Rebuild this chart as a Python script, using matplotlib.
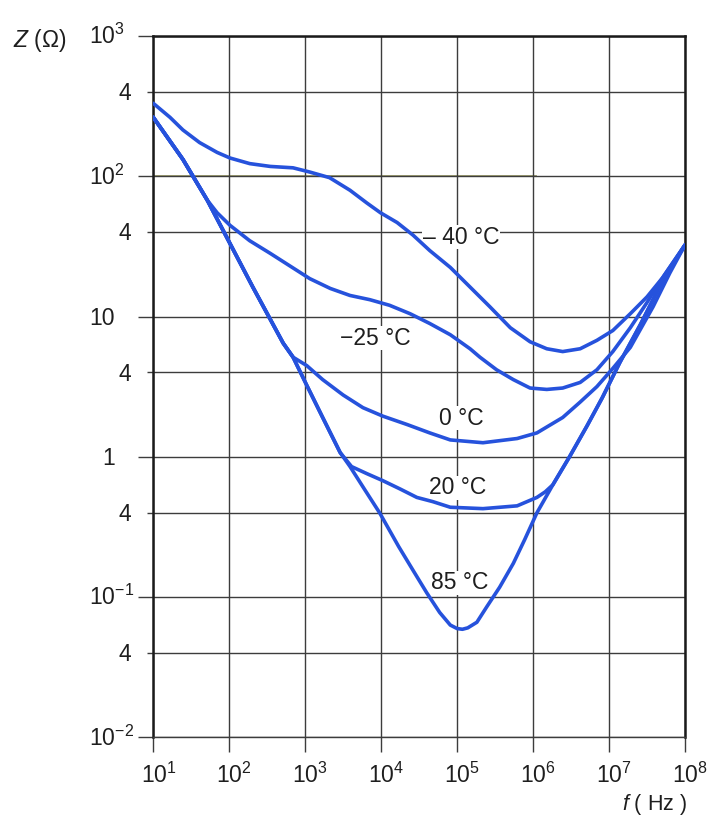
import numpy as np
import matplotlib
matplotlib.use('Agg')
import matplotlib.pyplot as plt
from matplotlib.ticker import NullLocator

plt.rcParams['font.family'] = ['Liberation Sans', 'DejaVu Sans']
plt.rcParams['mathtext.fontset'] = 'custom'
plt.rcParams['mathtext.rm'] = 'Liberation Sans'
plt.rcParams['mathtext.it'] = 'Liberation Sans:italic'
plt.rcParams['mathtext.bf'] = 'Liberation Sans:bold'

# ---------------- data (as decade exponents) ----------------
# -40 °C
logf_m40 = [1.00, 1.22, 1.39, 1.61, 1.84, 2.01, 2.27, 2.54, 2.84, 3.06, 3.32, 3.59,
            3.81, 3.99, 4.21, 4.42, 4.64, 4.91, 5.17, 5.43, 5.70, 5.96, 6.18,
            6.39, 6.62, 6.84, 7.05, 7.28, 7.50, 7.71, 8.00]
logz_m40 = [2.52, 2.42, 2.33, 2.24, 2.17, 2.13, 2.09, 2.07, 2.06, 2.03, 1.99, 1.90,
            1.81, 1.74, 1.67, 1.58, 1.47, 1.35, 1.21, 1.07, 0.92, 0.82, 0.77,
            0.75, 0.77, 0.83, 0.90, 1.02, 1.14, 1.28, 1.51]
# -25 °C
logf_m25 = [1.00, 1.39, 1.71, 1.84, 2.01, 2.27, 2.54, 2.80, 3.06, 3.33, 3.59, 3.85,
            4.11, 4.38, 4.64, 4.91, 5.17, 5.30, 5.52, 5.74, 5.96, 6.18, 6.39, 6.62,
            6.84, 7.05, 7.28, 7.50, 7.71, 8.00]
logz_m25 = [2.42, 2.12, 1.83, 1.74, 1.65, 1.54, 1.45, 1.36, 1.27, 1.20, 1.15, 1.12,
            1.08, 1.02, 0.95, 0.87, 0.77, 0.71, 0.62, 0.55, 0.49, 0.48, 0.49, 0.53,
            0.62, 0.75, 0.92, 1.10, 1.28, 1.51]
# 0 °C
logf_0 = [1.00, 1.39, 1.71, 2.01, 2.31, 2.54, 2.71, 2.84, 3.02, 3.23, 3.50, 3.76,
          4.02, 4.34, 4.64, 4.91, 5.34, 5.79, 6.05, 6.39, 6.62, 6.84, 7.05, 7.28,
          7.58, 7.80, 8.00]
logz_0 = [2.42, 2.12, 1.83, 1.52, 1.21, 0.98, 0.81, 0.71, 0.65, 0.55, 0.44, 0.35,
          0.29, 0.23, 0.17, 0.12, 0.10, 0.13, 0.17, 0.28, 0.39, 0.50, 0.63, 0.78,
          1.07, 1.31, 1.51]
# 20 °C
logf_20 = [1.00, 1.39, 1.71, 2.01, 2.31, 2.54, 2.71, 2.84, 3.02, 3.23, 3.46, 3.61,
           3.81, 4.02, 4.25, 4.47, 4.68, 4.91, 5.34, 5.79, 6.05, 6.16, 6.26,
           6.48, 6.71, 6.91, 7.14, 7.41, 7.71, 8.00]
logz_20 = [2.42, 2.12, 1.83, 1.52, 1.21, 0.98, 0.81, 0.71, 0.51, 0.28, 0.03, -0.07,
           -0.12, -0.17, -0.23, -0.29, -0.32, -0.36, -0.37, -0.35, -0.29, -0.25, -0.20,
           0.00, 0.22, 0.42, 0.67, 0.94, 1.26, 1.51]
# 85 °C
logf_85 = [1.00, 1.39, 1.71, 2.01, 2.31, 2.54, 2.71, 2.84, 3.02, 3.23, 3.46, 3.59,
           3.79, 3.98, 4.23, 4.42, 4.60, 4.77, 4.91, 5.00, 5.07, 5.14, 5.26, 5.39,
           5.56, 5.74, 5.89, 6.05, 6.26, 6.48, 6.71, 6.91, 7.14, 7.41, 7.71, 8.00]
logz_85 = [2.42, 2.12, 1.83, 1.52, 1.21, 0.98, 0.81, 0.71, 0.51, 0.28, 0.03, -0.07,
           -0.24, -0.40, -0.64, -0.81, -0.97, -1.11, -1.20, -1.225, -1.23, -1.22, -1.18, -1.07,
           -0.93, -0.76, -0.59, -0.40, -0.20, 0.00, 0.22, 0.42, 0.67, 0.94, 1.26, 1.51]

curve_labels = ['– 40 °C', '−25 °C', '0 °C', '20 °C', '85 °C']
label_pos_f = [1.12e5, 8.5e3, 1.15e5, 1.02e5, 1.07e5]
label_pos_z = [36.8, 7.0, 1.88, 0.60, 0.126]

x_decades = [1e1, 1e2, 1e3, 1e4, 1e5, 1e6, 1e7, 1e8]
x_ticklabels = [r'$10^{1}$', r'$10^{2}$', r'$10^{3}$', r'$10^{4}$',
                r'$10^{5}$', r'$10^{6}$', r'$10^{7}$', r'$10^{8}$']
y_decades = [1e3, 1e2, 1e1, 1e0, 1e-1, 1e-2]
y_ticklabels = [r'$10^{3}$', r'$10^{2}$', '10', '1', r'$10^{-1}$', r'$10^{-2}$']
y_fours = [400, 40, 4, 0.4, 0.04]
y_four_labels = ['4', '4', '4', '4', '4']

series = [(logf_m40, logz_m40), (logf_m25, logz_m25), (logf_0, logz_0),
          (logf_20, logz_20), (logf_85, logz_85)]

# ---------------- figure ----------------
fig = plt.figure(figsize=(7.1, 8.18), dpi=100)
ax = fig.add_axes([0.2159, 0.0987, 0.7489, 0.8573])
ax.set_xscale('log')
ax.set_yscale('log')
ax.set_xlim(1e1, 1e8)
ax.set_ylim(1e-2, 1e3)

grid_c = '#3c3c3c'
ax.set_xticks(x_decades)
ax.xaxis.set_minor_locator(NullLocator())
ax.set_yticks(y_decades)
ax.set_yticks(y_fours, minor=True)
ax.set_xticklabels([])
ax.set_yticklabels([])
ax.set_yticklabels([], minor=True)
ax.tick_params(axis='both', which='major', direction='out', length=10.8,
               width=1.0, color=grid_c)
ax.tick_params(axis='y', which='minor', direction='out', length=4.3,
               width=1.0, color=grid_c)
ax.grid(True, which='both', color=grid_c, linewidth=1.0, zorder=0)
# slightly tinted 10^2 grid line as in the scanned original
ax.axhline(100, xmin=0.0, xmax=0.72, color='#9c9c6a', linewidth=1.3, zorder=1)

for s in ['top', 'left', 'right']:
    ax.spines[s].set_linewidth(1.8)
    ax.spines[s].set_color('#1a1a1a')
ax.spines['bottom'].set_linewidth(1.0)
ax.spines['bottom'].set_color(grid_c)

blue = '#2652dc'
for lf, lz in series:
    ax.plot(10.0 ** np.asarray(lf), 10.0 ** np.asarray(lz), color=blue,
            linewidth=2.6, solid_joinstyle='round', solid_capstyle='round', zorder=3)

FS = 16.5
txt_c = '#1e1e1e'
for t, fx, zy in zip(curve_labels, label_pos_f, label_pos_z):
    ax.text(fx, zy, t, ha='center', va='center', fontsize=FS, color=txt_c,
            zorder=2, bbox=dict(facecolor='white', edgecolor='none', pad=0.3))

ytr = ax.get_yaxis_transform()
xtr = ax.get_xaxis_transform()
for yv, lab in zip(y_decades, y_ticklabels):
    if lab.startswith('$'):
        ax.annotate(lab, xy=(0, yv), xycoords=ytr, xytext=(-46, -5.9),
                    textcoords='offset points', ha='left', va='baseline',
                    fontsize=FS, color=txt_c, annotation_clip=False)
    else:
        ax.annotate(lab, xy=(0, yv), xycoords=ytr, xytext=(-27.6, -5.9),
                    textcoords='offset points', ha='right', va='baseline',
                    fontsize=FS, color=txt_c, annotation_clip=False)
for yv, lab in zip(y_fours, y_four_labels):
    ax.annotate(lab, xy=(0, yv), xycoords=ytr, xytext=(-16, -5.9),
                textcoords='offset points', ha='right', va='baseline',
                fontsize=FS, color=txt_c, annotation_clip=False)
for xv, lab in zip(x_decades, x_ticklabels):
    ax.annotate(lab, xy=(xv, 0), xycoords=xtr, xytext=(-9.2, -32.9),
                textcoords='offset points', ha='left', va='baseline',
                fontsize=FS, color=txt_c, annotation_clip=False)

fig.text(13 / 710, 1 - 47 / 818, r'$Z$ (Ω)', fontsize=FS, color=txt_c,
         ha='left', va='baseline')
fig.text(622 / 710, 1 - 810 / 818, r'$f$ ( Hz )', fontsize=FS - 1, color=txt_c,
         ha='left', va='baseline')

fig.savefig('out.png', dpi=100, facecolor='white')
